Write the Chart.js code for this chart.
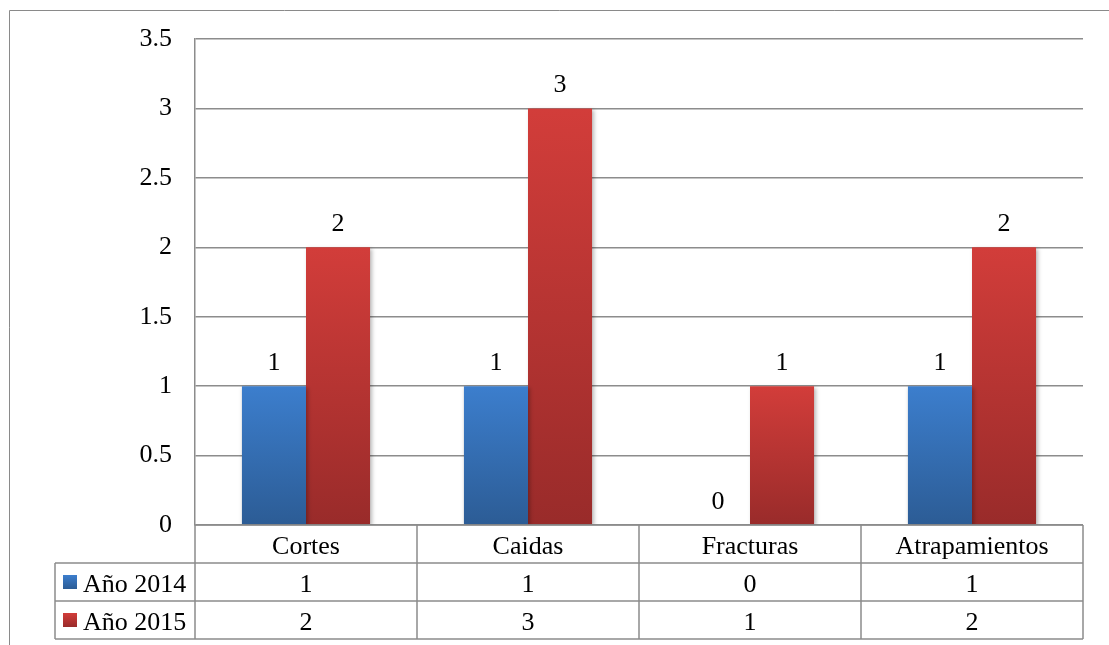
<!DOCTYPE html>
<html>
<head>
<meta charset="utf-8">
<script src="https://cdn.jsdelivr.net/npm/chart.js@4.4.1/dist/chart.umd.min.js"></script>
<style>
  html, body { margin: 0; padding: 0; background: #ffffff; }
  #wrap { width: 1109px; height: 645px; }
</style>
</head>
<body>
<div id="wrap"><canvas id="c" width="1109" height="645"></canvas></div>
<script>
// Accident types and yearly counts
const categories = ['Cortes', 'Caidas', 'Fracturas', 'Atrapamientos'];
const seriesNames = ['Año 2014', 'Año 2015'];
const values2014 = [1, 1, 0, 1];
const values2015 = [2, 3, 1, 2];
const yTickLabels = ['0', '0.5', '1', '1.5', '2', '2.5', '3', '3.5'];

const FONT = "'Liberation Serif', 'Times New Roman', serif";
const LINE = '#8c8c8c';
const palettes = [
  { top: '#3c7ecd', bottom: '#2c5c95' },
  { top: '#d23d3a', bottom: '#992b2a' }
];

function barGradient(ctx, dsIndex) {
  const chart = ctx.chart;
  if (!chart.chartArea || ctx.raw === undefined) return palettes[dsIndex].top;
  const y = chart.scales.y;
  const top = y.getPixelForValue(ctx.raw);
  const base = y.getPixelForValue(0);
  const g = chart.ctx.createLinearGradient(0, top, 0, Math.max(base, top + 1));
  g.addColorStop(0, palettes[dsIndex].top);
  g.addColorStop(1, palettes[dsIndex].bottom);
  return g;
}

// Soft drop shadow under the columns
const barShadow = {
  id: 'barShadow',
  beforeDatasetsDraw(chart) {
    const c = chart.ctx;
    c.save();
    c.shadowColor = 'rgba(0,0,0,0.28)';
    c.shadowBlur = 4;
    c.shadowOffsetX = 1.5;
    c.shadowOffsetY = 1.5;
  },
  afterDatasetsDraw(chart) {
    chart.ctx.restore();
  }
};

// Value printed above every column
const valueLabels = {
  id: 'valueLabels',
  afterDatasetsDraw(chart) {
    const c = chart.ctx;
    c.save();
    c.font = '26px ' + FONT;
    c.fillStyle = '#000';
    c.textAlign = 'center';
    c.textBaseline = 'alphabetic';
    chart.data.datasets.forEach((ds, i) => {
      chart.getDatasetMeta(i).data.forEach((bar, j) => {
        c.fillText(String(ds.data[j]), bar.x, bar.y - 16);
      });
    });
    c.restore();
  }
};

// Data table under the plot plus the outer frame
const dataTable = {
  id: 'dataTable',
  afterDraw(chart) {
    const c = chart.ctx;
    const area = chart.chartArea;
    const x = chart.scales.x;
    const rowH = 38;
    const top = area.bottom;
    const legendLeft = 55;
    const n = categories.length;
    const colW = (area.right - area.left) / n;

    c.save();
    c.strokeStyle = LINE;
    c.lineWidth = 1.5;
    c.beginPath();
    // horizontal rules
    c.moveTo(area.left, top); c.lineTo(area.right, top);
    for (let r = 1; r <= 3; r++) {
      c.moveTo(legendLeft, top + r * rowH); c.lineTo(area.right, top + r * rowH);
    }
    // vertical rules
    c.moveTo(legendLeft, top + rowH); c.lineTo(legendLeft, top + 3 * rowH);
    for (let k = 0; k <= n; k++) {
      const xx = area.left + k * colW;
      c.moveTo(xx, top); c.lineTo(xx, top + 3 * rowH);
    }
    c.stroke();

    // outer frame
    c.lineWidth = 1;
    c.strokeStyle = '#8a8a8a';
    c.beginPath();
    c.moveTo(9.5, chart.height); c.lineTo(9.5, 10.5); c.lineTo(chart.width, 10.5);
    c.stroke();

    c.fillStyle = '#000';
    c.font = '26px ' + FONT;
    c.textBaseline = 'alphabetic';
    c.textAlign = 'center';
    categories.forEach((cat, i) => {
      const cx = x.getPixelForValue(i);
      c.fillText(cat, cx, top + rowH / 2 + 10);
    });
    const rows = [values2014, values2015];
    rows.forEach((vals, r) => {
      const cy = top + (r + 1) * rowH + rowH / 2;
      vals.forEach((v, i) => {
        c.fillText(String(v), x.getPixelForValue(i), cy + 10);
      });
    });
    c.textAlign = 'left';
    seriesNames.forEach((name, r) => {
      const cy = top + (r + 1) * rowH + rowH / 2;
      const g = c.createLinearGradient(0, cy - 7, 0, cy + 7);
      g.addColorStop(0, palettes[r].top);
      g.addColorStop(1, palettes[r].bottom);
      c.fillStyle = g;
      c.fillRect(63, cy - 7, 14, 14);
      c.fillStyle = '#000';
      c.fillText(name, 83, cy + 10);
    });
    c.restore();
  }
};

new Chart(document.getElementById('c'), {
  type: 'bar',
  data: {
    labels: categories,
    datasets: [
      { label: seriesNames[0], data: values2014, backgroundColor: (ctx) => barGradient(ctx, 0) },
      { label: seriesNames[1], data: values2015, backgroundColor: (ctx) => barGradient(ctx, 1) }
    ]
  },
  options: {
    responsive: false,
    devicePixelRatio: 1,
    animation: false,
    layout: { padding: { left: 10, top: 39, right: 26, bottom: 0 } },
    datasets: { bar: { barPercentage: 1, categoryPercentage: 0.577, borderWidth: 0 } },
    plugins: { legend: { display: false }, tooltip: { enabled: false } },
    scales: {
      x: {
        grid: { display: false },
        border: { display: false },
        ticks: { display: false },
        afterFit(scale) { scale.height = 120; }
      },
      y: {
        min: 0,
        max: 3.5,
        ticks: {
          stepSize: 0.5,
          padding: 23,
          color: '#000',
          font: { family: FONT, size: 26 },
          callback: (v) => yTickLabels[Math.round(v * 2)]
        },
        grid: { color: LINE, lineWidth: 1.5, drawTicks: false },
        border: { display: true, color: LINE, width: 1.5 },
        afterFit(scale) { scale.width = 185; }
      }
    }
  },
  plugins: [barShadow, valueLabels, dataTable]
});
</script>
</body>
</html>
